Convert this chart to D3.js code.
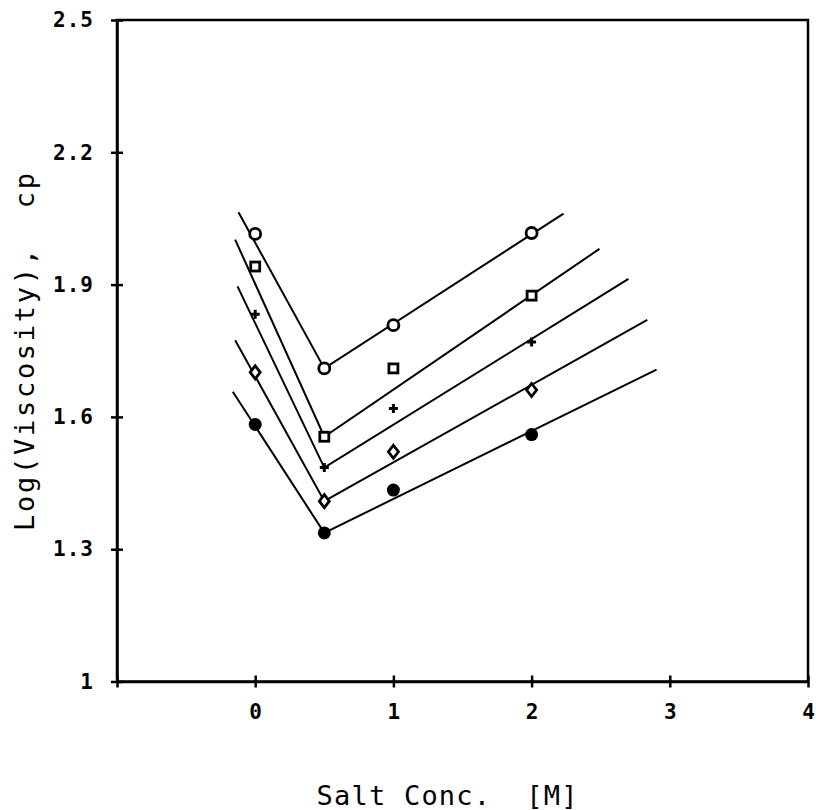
<!DOCTYPE html>
<html>
<head>
<meta charset="utf-8">
<script src="https://cdn.jsdelivr.net/npm/d3@7"></script>
<style>
  html, body { margin: 0; padding: 0; background: #fff; }
  svg { display: block; }
  text.title { white-space: pre; }
</style>
</head>
<body>
<div id="chart"></div>
<script>
// Salt concentration (M) at which viscosity was measured
const salt = [0, 0.5, 1, 2];

// log(viscosity) for each sample series
const seriesOpenCircle   = [2.015, 1.710, 1.808, 2.017];
const seriesOpenSquare   = [1.941, 1.555, 1.710, 1.875];
const seriesPlus         = [1.833, 1.485, 1.619, 1.770];
const seriesOpenDiamond  = [1.701, 1.409, 1.521, 1.661];
const seriesFilledCircle = [1.583, 1.337, 1.434, 1.560];

// Fitted V-shaped lines: start point, minimum at 0.5 M, end point
const fitStartX = [-0.121, -0.145, -0.128, -0.145, -0.162];
const fitStartY = [2.064, 2.002, 1.896, 1.774, 1.657];
const fitMinX   = [0.5, 0.5, 0.5, 0.5, 0.5];
const fitMinY   = [1.710, 1.555, 1.485, 1.409, 1.337];
const fitEndX   = [2.231, 2.491, 2.701, 2.837, 2.904];
const fitEndY   = [2.061, 1.981, 1.913, 1.820, 1.707];

// Axis ticks
const xTickValues = [-1, 0, 1, 2, 3, 4];
const xTickLabels = ["", "0", "1", "2", "3", "4"];
const yTickValues = [1, 1.3, 1.6, 1.9, 2.2, 2.5];
const yTickLabels = ["1", "1.3", "1.6", "1.9", "2.2", "2.5"];

const W = 816, H = 810;
const plotLeft = 117, plotRight = 808, plotTop = 20, plotBottom = 681.5;

const svg = d3.select("#chart").append("svg")
  .attr("width", W).attr("height", H);

const x = d3.scaleLinear().domain([-1, 4]).range([plotLeft, plotRight]);
const y = d3.scaleLinear().domain([1, 2.5]).range([plotBottom, plotTop]);

const ink = "#000";
const tickFont = "'DejaVu Sans Mono', 'Liberation Mono', monospace";

// Frame
svg.append("rect")
  .attr("x", plotLeft).attr("y", plotTop)
  .attr("width", plotRight - plotLeft).attr("height", plotBottom - plotTop)
  .attr("fill", "none").attr("stroke", ink).attr("stroke-width", 2.5);

// Bottom axis with ticks crossing the line
const xAxis = d3.axisBottom(x)
  .tickValues(xTickValues)
  .tickFormat((d, i) => xTickLabels[i])
  .tickSizeInner(6).tickSizeOuter(0).tickPadding(17);
const gx = svg.append("g").attr("transform", `translate(0,${plotBottom})`).call(xAxis);
gx.select(".domain").attr("stroke", ink).attr("stroke-width", 2.5);
gx.selectAll(".tick line").attr("y1", -6).attr("y2", 6).attr("stroke", ink).attr("stroke-width", 2.5);
gx.selectAll(".tick text")
  .attr("font-family", tickFont).attr("font-weight", "bold")
  .attr("font-size", 21).attr("fill", ink);

// Left axis
const yAxis = d3.axisLeft(y)
  .tickValues(yTickValues)
  .tickFormat((d, i) => yTickLabels[i])
  .tickSizeInner(6).tickSizeOuter(0).tickPadding(17);
const gy = svg.append("g").attr("transform", `translate(${plotLeft},0)`).call(yAxis);
gy.select(".domain").attr("stroke", ink).attr("stroke-width", 2.5);
gy.selectAll(".tick line").attr("x1", -6).attr("x2", 6).attr("stroke", ink).attr("stroke-width", 2.5);
gy.selectAll(".tick text")
  .attr("font-family", tickFont).attr("font-weight", "bold")
  .attr("font-size", 21).attr("letter-spacing", 1).attr("fill", ink);

// Fitted lines
const line = d3.line().x(d => x(d[0])).y(d => y(d[1]));
const fits = fitStartX.map((_, i) => [
  [fitStartX[i], fitStartY[i]],
  [fitMinX[i], fitMinY[i]],
  [fitEndX[i], fitEndY[i]]
]);
svg.append("g").selectAll("path").data(fits).join("path")
  .attr("d", line)
  .attr("fill", "none").attr("stroke", ink).attr("stroke-width", 2);

// Markers
const pts = arr => salt.map((s, i) => [s, arr[i]]);
const gm = svg.append("g");

gm.selectAll(".oc").data(pts(seriesOpenCircle)).join("circle")
  .attr("cx", d => x(d[0])).attr("cy", d => y(d[1])).attr("r", 5.5)
  .attr("fill", "#fff").attr("stroke", ink).attr("stroke-width", 2.8);

gm.selectAll(".os").data(pts(seriesOpenSquare)).join("rect")
  .attr("x", d => x(d[0]) - 4.5).attr("y", d => y(d[1]) - 4.5)
  .attr("width", 9).attr("height", 9)
  .attr("fill", "#fff").attr("stroke", ink).attr("stroke-width", 2.8);

gm.selectAll(".pl").data(pts(seriesPlus)).join("path")
  .attr("d", d => {
    const cx = x(d[0]), cy = y(d[1]);
    return `M${cx - 4.5},${cy}H${cx + 4.5}M${cx},${cy - 4.5}V${cy + 4.5}`;
  })
  .attr("fill", "none").attr("stroke", ink).attr("stroke-width", 3);

gm.selectAll(".od").data(pts(seriesOpenDiamond)).join("path")
  .attr("d", d => {
    const cx = x(d[0]), cy = y(d[1]);
    return `M${cx},${cy - 6.5}L${cx + 5},${cy}L${cx},${cy + 6.5}L${cx - 5},${cy}Z`;
  })
  .attr("fill", "#fff").attr("stroke", ink).attr("stroke-width", 2.8);

gm.selectAll(".fc").data(pts(seriesFilledCircle)).join("circle")
  .attr("cx", d => x(d[0])).attr("cy", d => y(d[1])).attr("r", 6.5)
  .attr("fill", ink);

// Axis titles (double spaces kept)
const titleFont = "'DejaVu Sans Mono', 'Liberation Mono', monospace";
svg.append("text").attr("class", "title")
  .attr("x", 447).attr("y", 805)
  .attr("text-anchor", "middle")
  .attr("font-family", titleFont).attr("font-size", 27)
  .attr("textLength", 261).attr("lengthAdjust", "spacing")
  .attr("fill", ink)
  .text("Salt Conc.\u00a0\u00a0[M]");

svg.append("text").attr("class", "title")
  .attr("transform", "translate(34,352) rotate(-90)")
  .attr("text-anchor", "middle")
  .attr("font-family", titleFont).attr("font-size", 27)
  .attr("textLength", 358).attr("lengthAdjust", "spacing")
  .attr("fill", ink)
  .text("Log(Viscosity),\u00a0\u00a0cp");
</script>
</body>
</html>
